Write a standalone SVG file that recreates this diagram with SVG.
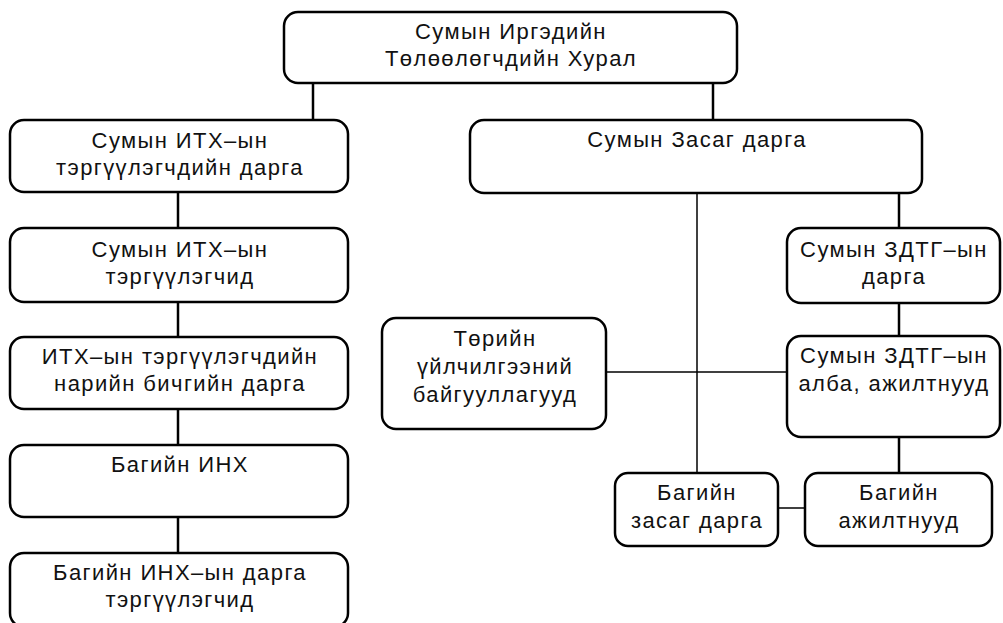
<svg xmlns="http://www.w3.org/2000/svg" width="1003" height="623" viewBox="0 0 1003 623">
<style>
.box{fill:#fff;stroke:#000;stroke-width:2.5}
.t{font-family:"Liberation Sans",Arial,sans-serif;font-size:22px;letter-spacing:1.4px;fill:#111;text-anchor:middle}
.c{stroke:#000;stroke-width:2.5;fill:none}
.ct{stroke:#000;stroke-width:1.5;fill:none}
</style>
<rect width="1003" height="623" fill="#fff"/>
<g id="connectors">
<line class="c" x1="313" y1="83" x2="313" y2="120"/>
<line class="c" x1="713" y1="83" x2="713" y2="120"/>
<line class="c" x1="178" y1="192" x2="178" y2="228"/>
<line class="c" x1="178" y1="302" x2="178" y2="337"/>
<line class="c" x1="178" y1="409" x2="178" y2="445"/>
<line class="c" x1="178" y1="517" x2="178" y2="553"/>
<line class="ct" x1="697" y1="193" x2="697" y2="473"/>
<line class="c" x1="899" y1="193" x2="899" y2="228"/>
<line class="c" x1="899" y1="303" x2="899" y2="336"/>
<line class="c" x1="899" y1="437" x2="899" y2="473"/>
<line class="ct" x1="606" y1="372" x2="787" y2="372"/>
<line class="ct" x1="778" y1="508" x2="805" y2="508"/>
</g>
<g id="n-hural">
<rect class="box" x="284" y="12" width="453" height="71" rx="14"/>
<text class="t" x="511" y="39">Сумын Иргэдийн</text>
<text class="t" x="511" y="66">Төлөөлөгчдийн Хурал</text>
</g>
<g id="n-itx-darga">
<rect class="box" x="10" y="120" width="338" height="72" rx="14"/>
<text class="t" x="180" y="148">Сумын ИТХ–ын</text>
<text class="t" x="180" y="175">тэргүүлэгчдийн дарга</text>
</g>
<g id="n-itx-terg">
<rect class="box" x="10" y="228" width="338" height="74" rx="14"/>
<text class="t" x="180" y="257">Сумын ИТХ–ын</text>
<text class="t" x="180" y="284">тэргүүлэгчид</text>
</g>
<g id="n-itx-nb">
<rect class="box" x="10" y="337" width="338" height="72" rx="14"/>
<text class="t" x="180" y="364">ИТХ–ын тэргүүлэгчдийн</text>
<text class="t" x="180" y="391">нарийн бичгийн дарга</text>
</g>
<g id="n-bag-inh">
<rect class="box" x="10" y="445" width="338" height="72" rx="14"/>
<text class="t" x="180" y="472">Багийн ИНХ</text>
</g>
<g id="n-bag-inh-darga">
<rect class="box" x="10" y="553" width="338" height="74" rx="14"/>
<text class="t" x="180" y="580">Багийн ИНХ–ын дарга</text>
<text class="t" x="180" y="607">тэргүүлэгчид</text>
</g>
<g id="n-zasag">
<rect class="box" x="470" y="120" width="452" height="73" rx="14"/>
<text class="t" x="697" y="147">Сумын Засаг дарга</text>
</g>
<g id="n-zdtg-darga">
<rect class="box" x="787" y="228" width="213" height="75" rx="14"/>
<text class="t" x="894" y="257">Сумын ЗДТГ–ын</text>
<text class="t" x="894" y="284">дарга</text>
</g>
<g id="n-zdtg-alba">
<rect class="box" x="787" y="336" width="213" height="101" rx="14"/>
<text class="t" x="894" y="363">Сумын ЗДТГ–ын</text>
<text class="t" x="894" y="391">алба, ажилтнууд</text>
</g>
<g id="n-toriin">
<rect class="box" x="382" y="318" width="224" height="111" rx="14"/>
<text class="t" x="495" y="346">Төрийн</text>
<text class="t" x="495" y="374">үйлчилгээний</text>
<text class="t" x="495" y="402">байгууллагууд</text>
</g>
<g id="n-bag-zasag">
<rect class="box" x="615" y="473" width="163" height="73" rx="13"/>
<text class="t" x="697" y="500">Багийн</text>
<text class="t" x="697" y="528">засаг дарга</text>
</g>
<g id="n-bag-ajil">
<rect class="box" x="805" y="473" width="187" height="73" rx="13"/>
<text class="t" x="899" y="500">Багийн</text>
<text class="t" x="899" y="528">ажилтнууд</text>
</g>
</svg>
